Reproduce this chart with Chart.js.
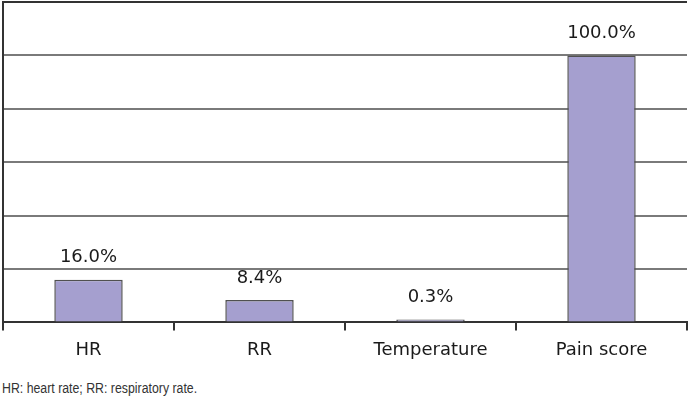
<!DOCTYPE html>
<html><head><meta charset="utf-8">
<script src="https://cdn.jsdelivr.net/npm/chart.js@4/dist/chart.umd.min.js"></script>
<style>
html,body{margin:0;padding:0;background:#fff;}
#wrap{position:relative;width:689px;height:400px;}
#c{position:absolute;left:0;top:0;}
#note{position:absolute;left:2px;top:380px;font-family:"Liberation Sans",Arial,sans-serif;font-size:14px;color:#333;white-space:nowrap;transform:scaleX(0.88);transform-origin:0 0;}
</style></head>
<body><div id="wrap"><canvas id="c" width="689" height="370"></canvas>
<div id="note">HR: heart rate; RR: respiratory rate.</div></div>
<script>
const categories = ["HR", "RR", "Temperature", "Pain score"];
const values = [16.0, 8.4, 0.3, 100.0];
const valueLabels = ["16.0%", "8.4%", "0.3%", "100.0%"];
const yMax = 120, yStep = 20;

const labelPlugin = {
  id: 'valLabels',
  afterDatasetsDraw(chart) {
    const ctx = chart.ctx;
    const meta = chart.getDatasetMeta(0);
    ctx.save();
    ctx.font = '18px "DejaVu Sans", sans-serif';
    ctx.fillStyle = '#1a1a1a';
    ctx.textAlign = 'center';
    ctx.textBaseline = 'middle';
    meta.data.forEach((bar, i) => {
      ctx.fillText(valueLabels[i], bar.x, bar.y - 22);
    });
    ctx.restore();
  }
};

new Chart(document.getElementById('c'), {
  type: 'bar',
  data: {
    labels: categories,
    datasets: [{
      data: values,
      backgroundColor: '#a59fcf',
      borderColor: '#505050',
      borderWidth: 1.5,
      minBarLength: 3,
      categoryPercentage: 1,
      barPercentage: 0.4
    }]
  },
  options: {
    responsive: false,
    animation: false,
    layout: { padding: { left: 3, right: 2, top: 2, bottom: 0 } },
    plugins: { legend: { display: false }, tooltip: { enabled: false } },
    scales: {
      x: {
        grid: { offset: true, drawOnChartArea: false, drawTicks: true, tickLength: 8, color: '#333', lineWidth: 2 },
        border: { display: true, color: '#333', width: 2 },
        ticks: { color: '#1a1a1a', padding: 9, font: { family: '"DejaVu Sans", sans-serif', size: 18 } }
      },
      y: {
        min: 0, max: yMax,
        ticks: { display: false, stepSize: yStep },
        grid: {
          drawTicks: false,
          color: (c) => c.tick && c.tick.value === yMax ? '#333' : '#7a7a7a',
          lineWidth: 2
        },
        border: { display: true, color: '#333', width: 2 }
      }
    }
  },
  plugins: [labelPlugin]
});
</script>
</body></html>
